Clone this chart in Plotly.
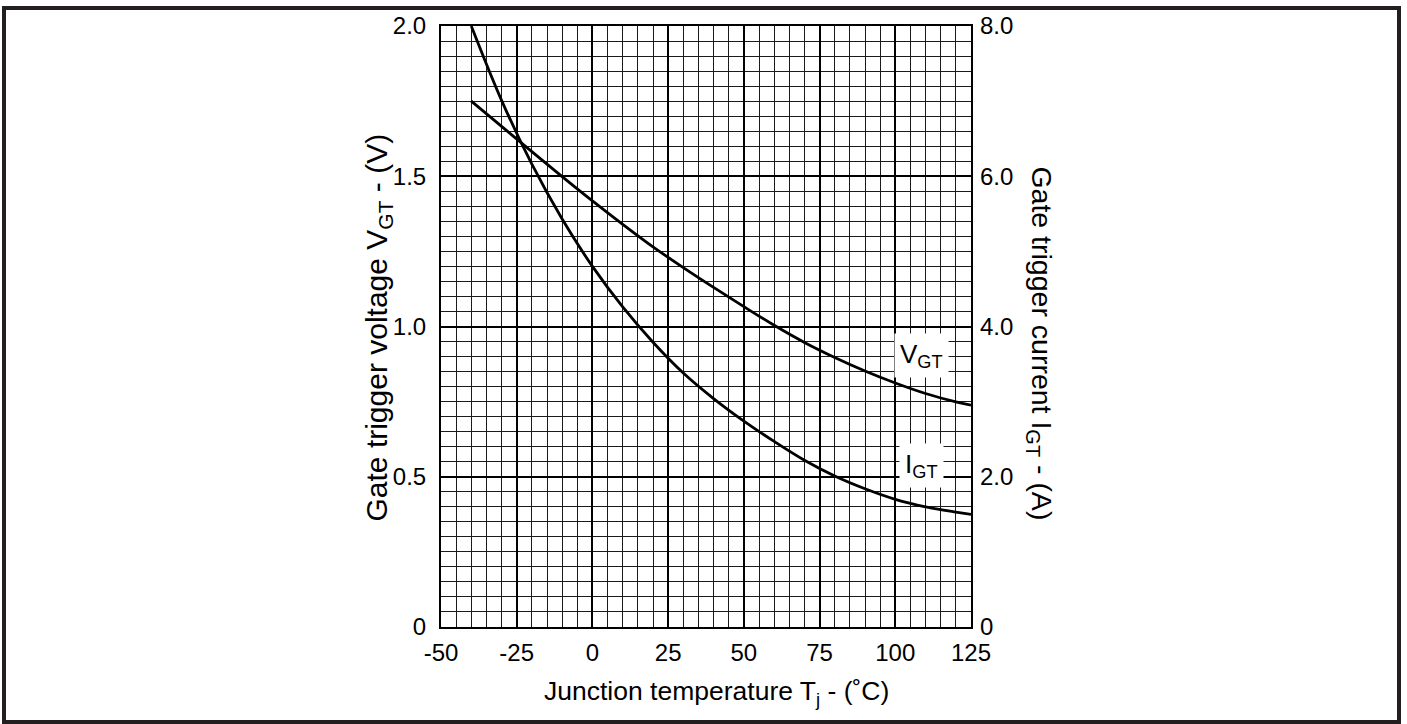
import plotly.graph_objects as go

# junction temperature (degC)
temp = [-40, -30, -20, -10, 0, 10, 20, 30, 40, 50, 60, 70, 80, 90, 100, 110, 120, 125]
# gate trigger voltage (V)
v_gt = [1.750, 1.666, 1.582, 1.499, 1.418, 1.340, 1.265, 1.196, 1.130, 1.066, 1.004,
        0.947, 0.897, 0.852, 0.812, 0.777, 0.749, 0.738]
# gate trigger current (A)
i_gt = [8.00, 7.01, 6.16, 5.43, 4.80, 4.26, 3.79, 3.38, 3.04, 2.74, 2.47, 2.22,
        2.01, 1.84, 1.70, 1.60, 1.53, 1.50]

x_ticks = [-50, -25, 0, 25, 50, 75, 100, 125]
x_ticktext = ["-50", "-25", "0", "25", "50", "75", "100", "125"]
v_ticks = [0, 0.5, 1.0, 1.5, 2.0]
v_ticktext = ["0", "0.5", "1.0", "1.5", "2.0"]
i_ticks = [0, 2, 4, 6, 8]
i_ticktext = ["0", "2.0", "4.0", "6.0", "8.0"]

font_family = "Liberation Sans, Arial, sans-serif"
ink = "#000000"
tick_font = dict(family=font_family, size=24, color=ink)

# plot area in page pixels
px_l, px_r, px_t, px_b = 441, 971, 23, 627
W, H = 1407, 724


def paper_x(px):
    return (px - px_l) / (px_r - px_l)


def paper_y(py):
    return (px_b - py) / (px_b - px_t)


fig = go.Figure()
fig.add_trace(go.Scatter(x=temp, y=v_gt, mode="lines", line=dict(color=ink, width=2.8, shape="spline"),
                         showlegend=False, hoverinfo="skip"))
fig.add_trace(go.Scatter(x=temp, y=i_gt, mode="lines", yaxis="y2",
                         line=dict(color=ink, width=2.8, shape="spline"),
                         showlegend=False, hoverinfo="skip"))

fig.update_layout(
    width=W, height=H,
    margin=dict(l=px_l, r=W - px_r, t=px_t, b=H - px_b),
    paper_bgcolor="white", plot_bgcolor="white",
    font=dict(family=font_family, size=24, color=ink),
    xaxis=dict(range=[-50, 125], tickvals=x_ticks, ticktext=x_ticktext, tickfont=tick_font,
               showgrid=True, gridcolor=ink, gridwidth=2,
               minor=dict(dtick=5, tick0=-50, showgrid=True, gridcolor="#1a1a1a", gridwidth=1),
               showline=True, linecolor=ink, linewidth=2, mirror=True, zeroline=False,
               ticks="", ticklabelstandoff=3),
    yaxis=dict(range=[0, 2.0], tickvals=v_ticks, ticktext=v_ticktext, tickfont=tick_font,
               showgrid=True, gridcolor=ink, gridwidth=2,
               minor=dict(dtick=0.05, tick0=0, showgrid=True, gridcolor="#1a1a1a", gridwidth=1),
               showline=True, linecolor=ink, linewidth=2, mirror=True, zeroline=False,
               ticks="", ticklabelstandoff=8),
    yaxis2=dict(range=[0, 8], tickvals=i_ticks, ticktext=i_ticktext, tickfont=tick_font,
                overlaying="y", side="right",
                showgrid=False, zeroline=False, showline=False, ticks="", ticklabelstandoff=8),
)

# axis titles
fig.add_annotation(text="Junction temperature T<sub>j</sub> - (˚C)", xref="paper", yref="paper",
                   x=paper_x(716), y=paper_y(693), showarrow=False,
                   xanchor="center", yanchor="middle", font=dict(size=26.5))
fig.add_annotation(text="Gate trigger voltage V<sub>GT</sub> - (V)", xref="paper", yref="paper",
                   x=paper_x(378), y=paper_y(326), showarrow=False, textangle=-90,
                   xanchor="center", yanchor="middle", font=dict(size=30))
fig.add_annotation(text="Gate trigger current I<sub>GT</sub> - (A)", xref="paper", yref="paper",
                   x=paper_x(1040), y=paper_y(342), showarrow=False, textangle=90,
                   xanchor="center", yanchor="middle", font=dict(size=28.5))

# curve labels
fig.add_annotation(text="V<sub>GT</sub>", x=108.5, y=0.904, showarrow=False, bgcolor="white",
                   borderpad=5, font=dict(size=26))
fig.add_annotation(text="I<sub>GT</sub>", x=108.5, y=0.536, showarrow=False, bgcolor="white",
                   borderpad=5, font=dict(size=26))

# outer frame
fig.add_shape(type="rect", xref="paper", yref="paper",
              x0=paper_x(4), x1=paper_x(1399), y0=paper_y(722.5), y1=paper_y(5),
              line=dict(color="#231f20", width=4), layer="above")

fig.write_html("out.html", config={"displayModeBar": False},
               post_script="document.body.style.margin='0';")
